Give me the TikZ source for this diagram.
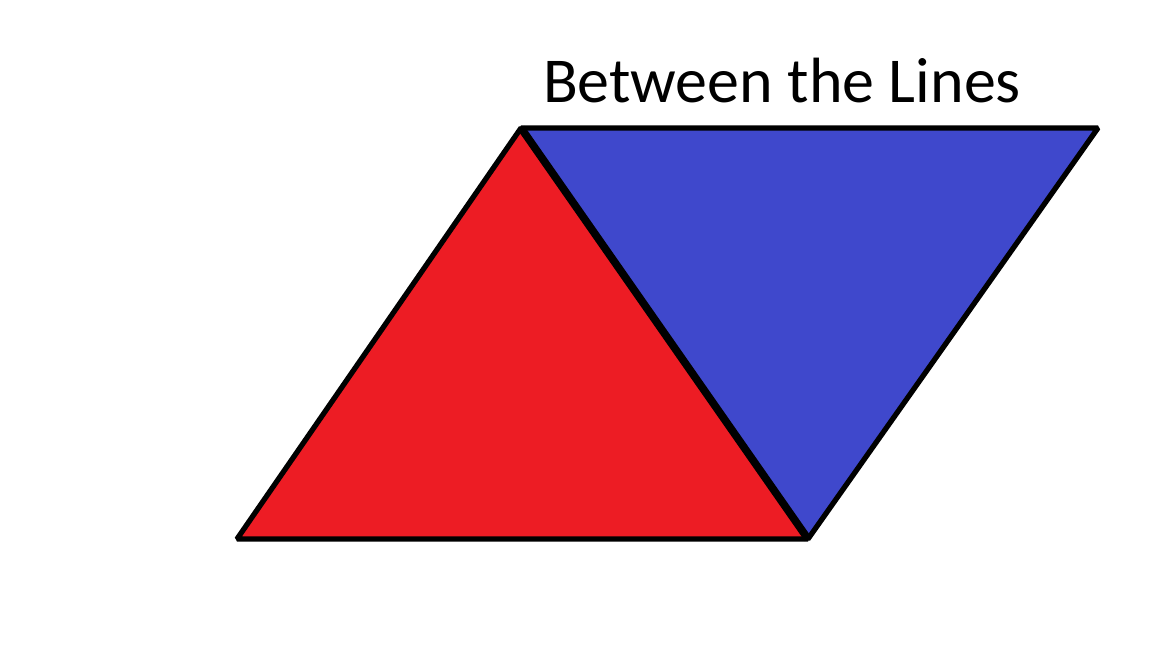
\documentclass[tikz,border=0pt]{standalone}
\usepackage{fontspec}
\setmainfont{Carlito}
\usepackage{tikz}
\usetikzlibrary{positioning}
\definecolor{paintred}{HTML}{ED1C24}
\definecolor{paintblue}{HTML}{3F48CC}

\begin{document}
\begin{tikzpicture}[line join=bevel]
  \useasboundingbox (0, 0) rectangle (11.52, 6.48);
  \coordinate (A) at (2.37, 1.09);
  \coordinate (B) at (5.21, 5.20);
  \coordinate (C) at (8.08, 1.09);
  \coordinate (D) at (10.98, 5.20);
  \filldraw[fill=paintred, line width=1.5pt] (A) -- (B) -- (C) -- cycle;
  \filldraw[fill=paintblue, line width=1.5pt] (B) -- (D) -- (C) -- cycle;
  \draw[line width=2.2pt] (B) -- (C);
  \node[anchor=base, inner sep=0pt, font=\fontsize{18.2}{20}\selectfont] (title) at (7.82, 5.45) {Between the Lines};
\end{tikzpicture}
\end{document}
